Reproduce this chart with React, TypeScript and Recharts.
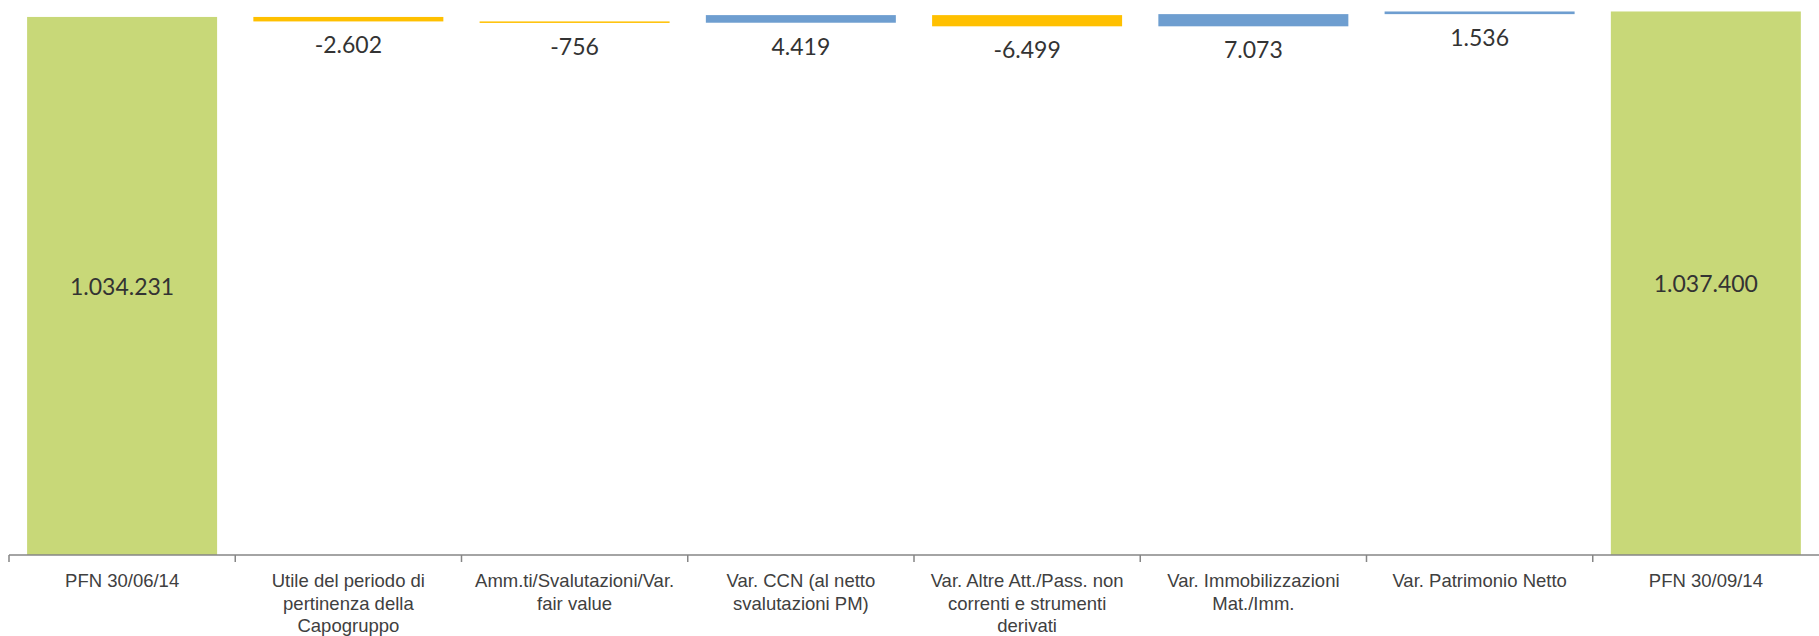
import React from "react";
import { BarChart, Bar, XAxis, YAxis } from "recharts";

const categories: string[] = [
  "PFN 30/06/14",
  "Utile del periodo di\npertinenza della\nCapogruppo",
  "Amm.ti/Svalutazioni/Var.\nfair value",
  "Var. CCN  (al netto\nsvalutazioni PM)",
  "Var. Altre Att./Pass. non\ncorrenti e strumenti\nderivati",
  "Var. Immobilizzazioni\nMat./Imm.",
  "Var. Patrimonio Netto",
  "PFN 30/09/14",
];
const values: number[] = [1034231, -2602, -756, 4419, -6499, 7073, 1536, 1037400];
const kinds: string[] = ["total", "delta", "delta", "delta", "delta", "delta", "delta", "total"];

const Y_MIN = 722000;
const Y_MAX = 1040000;

const COLOR_TOTAL = "#C8D878";
const COLOR_NEG = "#FFC000";
const COLOR_POS = "#6E9ED0";

const W = 1819;
const H = 636;
const MARGIN = { top: 7, right: 0, bottom: 6, left: 9 };
const XAXIS_H = 75;

const fmt = (v: number) => {
  const s = Math.abs(v).toString().replace(/\B(?=(\d{3})+(?!\d))/g, ".");
  return (v < 0 ? "-" : "") + s;
};

const data = (() => {
  let running = 0;
  return categories.map((name, i) => {
    const v = values[i];
    const kind = kinds[i];
    let range: [number, number];
    let color: string;
    if (kind === "total") {
      range = [Y_MIN, v];
      running = v;
      color = COLOR_TOTAL;
    } else {
      const next = running + v;
      range = [Math.min(running, next), Math.max(running, next)];
      running = next;
      color = v < 0 ? COLOR_NEG : COLOR_POS;
    }
    return { name, range, kind, color, label: fmt(v) };
  });
})();

const WaterfallShape = (props: any) => {
  const { x, y, width, height, payload } = props;
  const top = Math.min(y, y + height);
  const h = Math.abs(height);
  const cx = x + width / 2;
  const isTotal = payload.kind === "total";
  return (
    <g>
      <rect x={x} y={top} width={width} height={Math.max(h, 1.5)} fill={payload.color} />
      <text
        x={cx}
        y={isTotal ? top + h / 2 + 9 : top + h + 32}
        textAnchor="middle"
        fontFamily="Lato, 'Noto Sans', sans-serif"
        fontSize={23}
        fill="#333333"
      >
        {payload.label}
      </text>
    </g>
  );
};

const BAND_HALF = (W - MARGIN.left - MARGIN.right) / categories.length / 2;

const CatTick = (props: any) => {
  const { x, y, payload } = props;
  const lines = String(payload.value).split("\n");
  const half = payload && payload.offset > 0 ? payload.offset : BAND_HALF;
  return (
    <g>
      <line x1={x - half} x2={x - half} y1={y} y2={y + 7} stroke="#868686" strokeWidth={1.5} />
      <text
        textAnchor="middle"
        fontFamily="'Liberation Sans', Arial, sans-serif"
        fontSize={18.5}
        fill="#404040"
      >
        {lines.map((l, i) => (
          <tspan key={i} x={x} y={y + 32 + i * 22.5}>
            {l}
          </tspan>
        ))}
      </text>
    </g>
  );
};

export default function App() {
  return (
    <div style={{ position: "absolute", left: 0, top: 0, width: W, height: H, background: "#fff" }}>
      <BarChart width={W} height={H} data={data} margin={MARGIN} barCategoryGap="8%">
        <XAxis
          dataKey="name"
          height={XAXIS_H}
          interval={0}
          tickLine={false}
          tickSize={0}
          tickMargin={0}
          axisLine={{ stroke: "#868686", strokeWidth: 1.5 }}
          tick={<CatTick />}
        />
        <YAxis hide domain={[Y_MIN, Y_MAX]} allowDataOverflow />
        <Bar dataKey="range" isAnimationActive={false} shape={<WaterfallShape />} />
      </BarChart>
    </div>
  );
}
